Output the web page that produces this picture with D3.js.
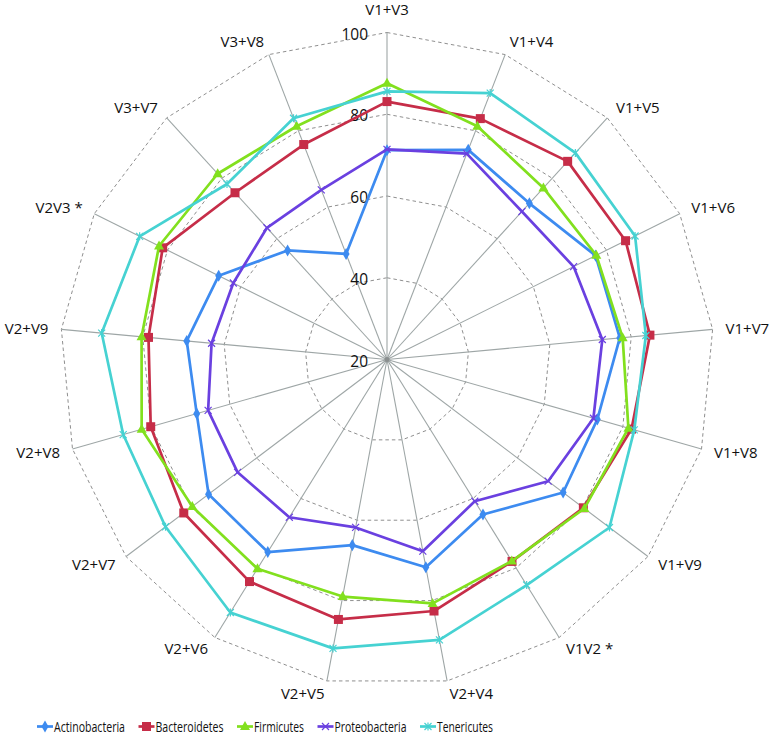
<!DOCTYPE html>
<html>
<head>
<meta charset="utf-8">
<script src="https://cdn.jsdelivr.net/npm/d3@7"></script>
<style>
  html, body { margin: 0; padding: 0; background: #ffffff; }
  svg { display: block; }
  text { font-family: "Open Sans", "DejaVu Sans", sans-serif; fill: #111; }
</style>
</head>
<body>
<svg id="chart" width="772" height="736"></svg>
<script>
// ---- data ----
const categories = ["V1+V3","V1+V4","V1+V5","V1+V6","V1+V7","V1+V8","V1+V9","V1V2 *","V2+V4",
                    "V2+V5","V2+V6","V2+V7","V2+V8","V2+V9","V2V3 *","V3+V7","V3+V8"];
const seriesNames = ["Actinobacteria","Bacteroidetes","Firmicutes","Proteobacteria","Tenericutes"];
const actinobacteria = [71.2, 75.0, 71.7, 77.0, 77.2, 73.5, 74.0, 64.6, 71.7, 66.2, 75.4, 74.7, 68.4, 69.2, 66.0, 56.1, 47.7];
const bacteroidetes  = [83.1, 83.2, 85.6, 85.2, 84.6, 82.2, 80.2, 78.1, 82.6, 84.7, 83.9, 82.3, 80.1, 78.6, 81.3, 75.2, 76.4];
const firmicutes     = [87.6, 81.2, 76.8, 77.2, 77.9, 81.4, 80.5, 78.0, 80.7, 79.0, 80.2, 79.7, 82.4, 80.3, 82.3, 81.5, 81.2];
const proteobacteria = [71.4, 74.0, 69.0, 71.0, 72.9, 72.5, 69.4, 60.8, 67.7, 61.8, 65.4, 65.8, 65.5, 63.1, 62.0, 63.6, 64.5];
const tenericutes    = [85.6, 89.9, 88.4, 87.8, 83.6, 82.9, 88.2, 84.9, 89.8, 91.9, 92.8, 87.9, 87.1, 90.1, 87.6, 78.1, 83.3];
const tickValues = [20, 40, 60, 80, 100];
const legendTextWidths = [71, 68, 50, 72, 56];

const seriesValues = [actinobacteria, bacteroidetes, firmicutes, proteobacteria, tenericutes];
const colors = ["#3d8bf0", "#c62d48", "#82e01e", "#6a40e0", "#46d2d2"];
const markers = ["diamond", "square", "triangle", "x", "asterisk"];

// ---- layout ----
const cx = 387, cy = 359.5, R = 327;
const svg = d3.select("#chart");
const g = svg.append("g").attr("transform", `translate(${cx},${cy})`);

const r = d3.scaleLinear().domain([20, 100]).range([0, R]);
const n = categories.length;
const angle = d3.scaleLinear().domain([0, n]).range([0, 2 * Math.PI]);
const px = (i, v) => r(v) * Math.sin(angle(i));
const py = (i, v) => -r(v) * Math.cos(angle(i));

// grid rings (dashed polygons)
tickValues.filter(t => t > 20).forEach(t => {
  const pts = d3.range(n).map(i => [px(i, t), py(i, t)]);
  g.append("path")
    .attr("d", d3.line().curve(d3.curveLinearClosed)(pts))
    .attr("fill", "none")
    .attr("stroke", "#8f8f8f")
    .attr("stroke-width", 1)
    .attr("stroke-dasharray", "3.5,3");
});

// spokes
g.selectAll("line.spoke").data(categories).enter().append("line")
  .attr("class", "spoke")
  .attr("x1", 0).attr("y1", 0)
  .attr("x2", (d, i) => px(i, 100))
  .attr("y2", (d, i) => py(i, 100))
  .attr("stroke", "#9ea6a6")
  .attr("stroke-width", 1.1);
g.append("circle").attr("r", 2.5).attr("fill", "#8a8f8f");

// tick labels
g.selectAll("text.tick").data(tickValues).enter().append("text")
  .attr("class", "tick")
  .attr("x", -19)
  .attr("y", d => -r(d) + 1)
  .attr("text-anchor", "end")
  .attr("dominant-baseline", "central")
  .style("font-size", "15.5px")
  .text(d => d);

// category labels
g.selectAll("text.cat").data(categories).enter().append("text")
  .attr("class", "cat")
  .attr("x", (d, i) => (R + 13) * Math.sin(angle(i)))
  .attr("y", (d, i) => {
    const c = Math.cos(angle(i));
    let y = c >= 0 ? -(R + 15) * c : -(R + 12) * c;
    if (Math.abs(Math.sin(angle(i))) < 0.1) y -= 9;
    return y;
  })
  .attr("text-anchor", (d, i) => {
    const s = Math.sin(angle(i));
    return Math.abs(s) < 0.1 ? "middle" : (s > 0 ? "start" : "end");
  })
  .attr("dominant-baseline", "central")
  .style("font-size", "15px")
  .text(d => d);

// marker drawing
function drawMarker(sel, type, color) {
  if (type === "diamond") {
    sel.append("path").attr("d", d3.symbol(d3.symbolDiamond, 42)()).attr("fill", color);
  } else if (type === "square") {
    sel.append("rect").attr("x", -4.5).attr("y", -4.5).attr("width", 9).attr("height", 9)
      .attr("fill", color);
  } else if (type === "triangle") {
    sel.append("path").attr("d", "M0,-5.5L5,3.5L-5,3.5Z").attr("fill", color);
  } else if (type === "x") {
    sel.append("path").attr("d", "M-3.5,-3.5L3.5,3.5M-3.5,3.5L3.5,-3.5")
      .attr("stroke", color).attr("stroke-width", 1.2).attr("fill", "none");
  } else if (type === "asterisk") {
    sel.append("path").attr("d", "M-3.5,-3.5L3.5,3.5M-3.5,3.5L3.5,-3.5M0,-4L0,4")
      .attr("stroke", color).attr("stroke-width", 1.2).attr("fill", "none");
  }
}

// series
const lineGen = d3.lineRadial()
  .angle((d, i) => angle(i))
  .radius(d => r(d))
  .curve(d3.curveLinearClosed);

seriesValues.forEach((vals, s) => {
  const sg = g.append("g").attr("class", "series");
  sg.append("path")
    .attr("d", lineGen(vals))
    .attr("fill", "none")
    .attr("stroke", colors[s])
    .attr("stroke-width", 2.7)
    .attr("stroke-linejoin", "round");
  vals.forEach((v, i) => {
    const mg = sg.append("g").attr("transform", `translate(${px(i, v)},${py(i, v)})`);
    drawMarker(mg, markers[s], colors[s]);
  });
});

// legend
const legY = 726.5;
let lx = 37;
const leg = svg.append("g").attr("class", "legend");
seriesNames.forEach((name, s) => {
  const it = leg.append("g");
  it.append("line").attr("x1", lx).attr("x2", lx + 16).attr("y1", legY).attr("y2", legY)
    .attr("stroke", colors[s]).attr("stroke-width", 2.7);
  const mg = it.append("g").attr("transform", `translate(${lx + 8},${legY})`);
  drawMarker(mg, markers[s], colors[s]);
  it.append("text")
    .attr("x", lx + 17)
    .attr("y", legY)
    .attr("dominant-baseline", "central")
    .attr("textLength", legendTextWidths[s])
    .attr("lengthAdjust", "spacingAndGlyphs")
    .style("font-size", "14px")
    .text(name);
  lx += 17 + legendTextWidths[s] + 13.5;
});
</script>
</body>
</html>
